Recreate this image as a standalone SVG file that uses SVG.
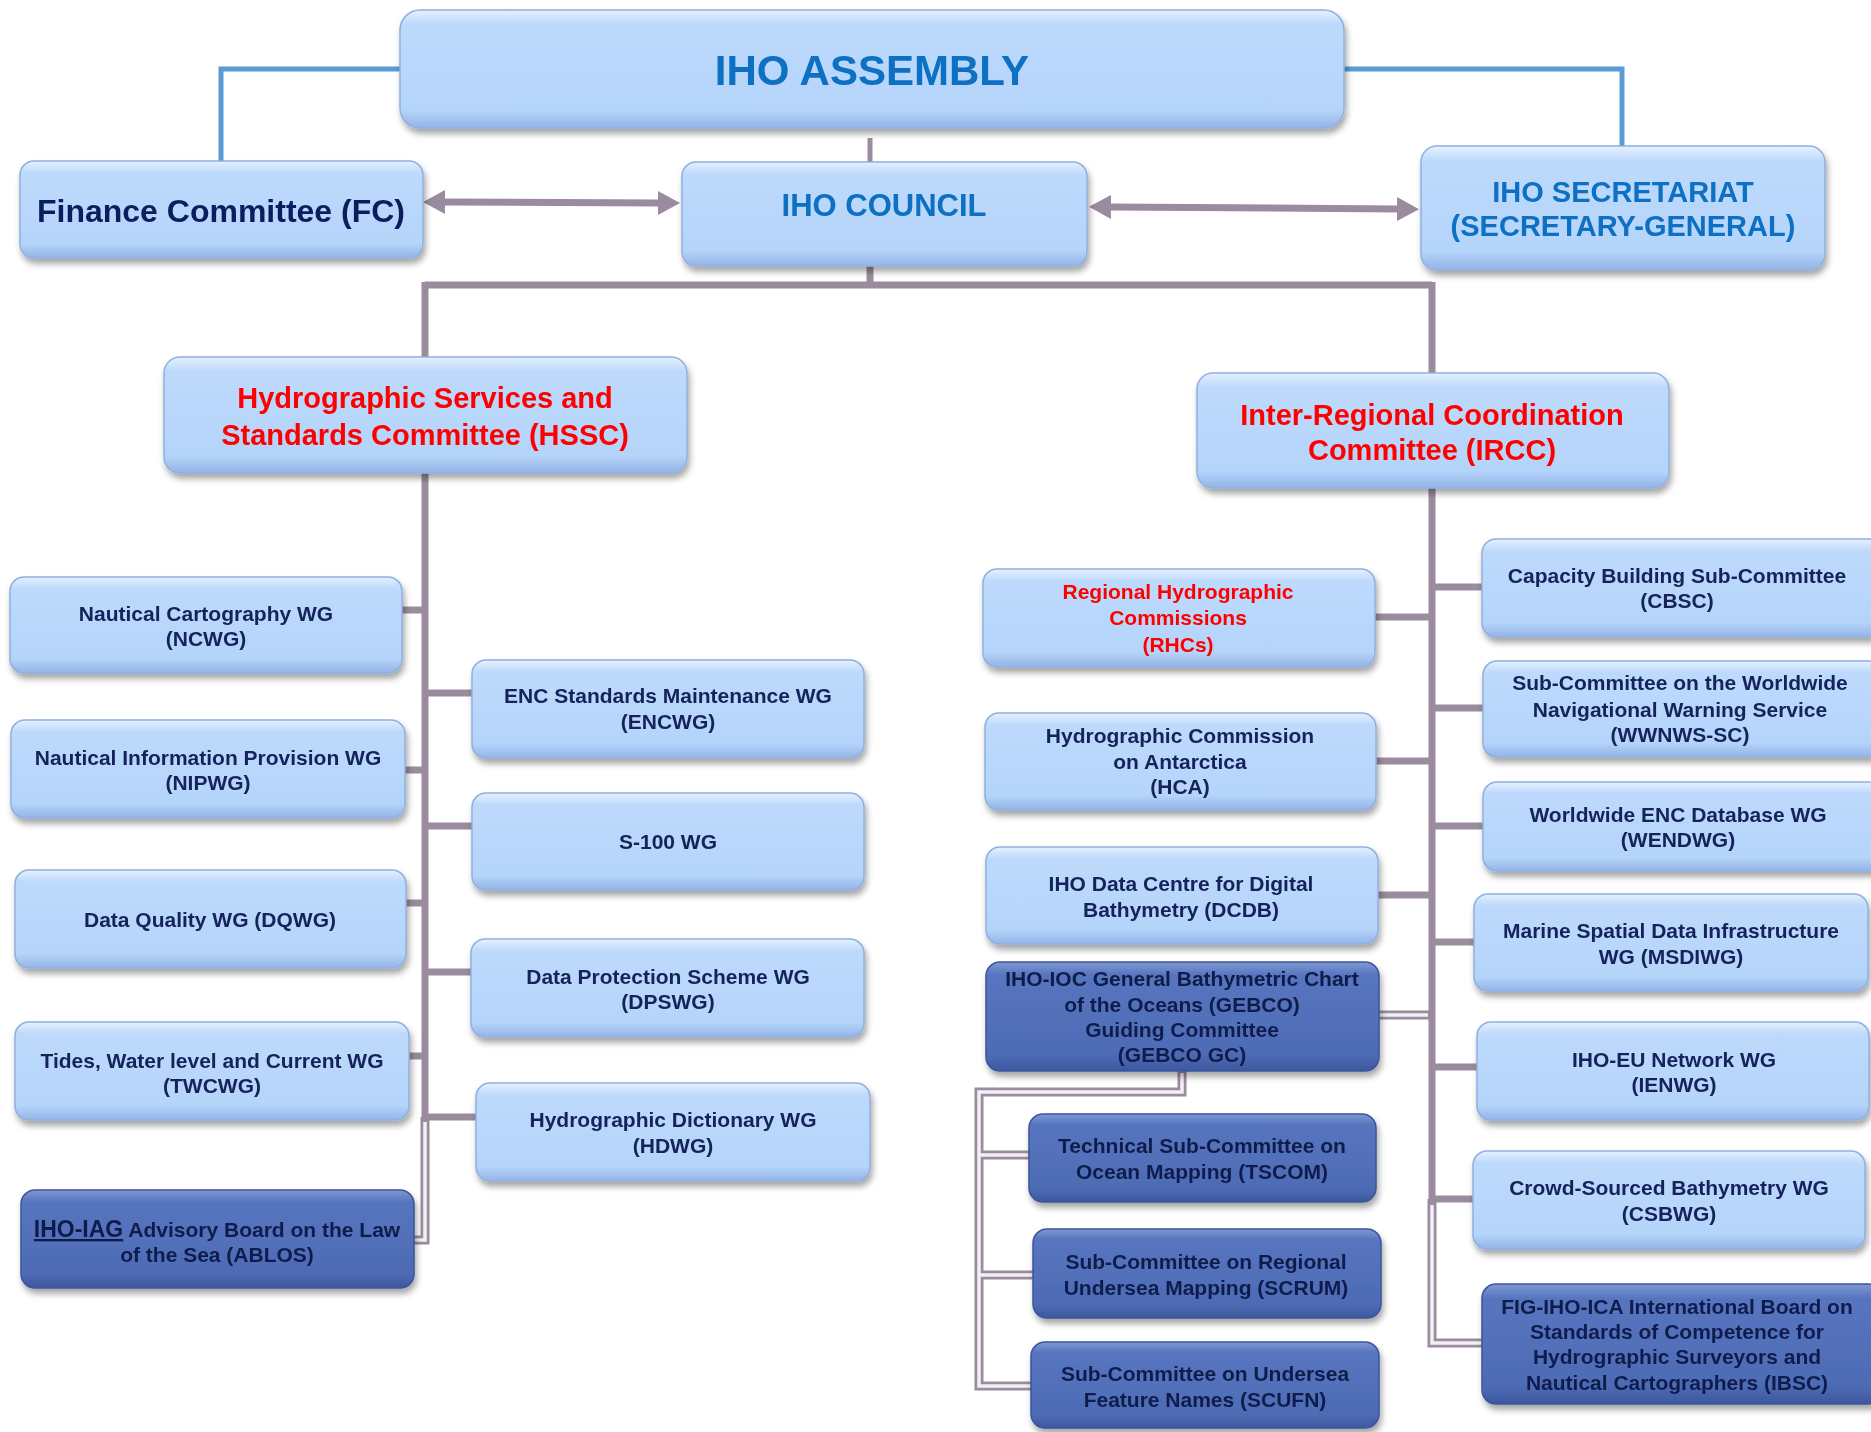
<svg xmlns="http://www.w3.org/2000/svg" width="1871" height="1432" viewBox="0 0 1871 1432">
<style>
.t{font-family:"Liberation Sans",Arial,sans-serif;font-weight:bold;font-size:21px;fill:#12225a;text-anchor:middle}
.td{font-family:"Liberation Sans",Arial,sans-serif;font-weight:bold;font-size:21px;fill:#101d4c;text-anchor:middle}
.red{fill:#ff0000}
.blue{fill:#0a6fc2}
.lb{fill:url(#gl);stroke:#8fb0df;stroke-width:1.5}
.db{fill:url(#gd);stroke:#3b5699;stroke-width:1.5}
.c{fill:none;stroke:#9a8c9e;stroke-width:7}
.ch{fill:none;stroke:#9a8c9e;stroke-width:9}
.ci{fill:none;stroke:#f3eff5;stroke-width:3.5}
.bl{fill:none;stroke:#5b9bd5;stroke-width:5}
</style>
<defs>
<linearGradient id="gl" x1="0" y1="0" x2="0" y2="1">
<stop offset="0" stop-color="#e6f1fe"/>
<stop offset="0.12" stop-color="#bddafc"/>
<stop offset="0.85" stop-color="#b5d4fa"/>
<stop offset="1" stop-color="#93b4e6"/>
</linearGradient>
<linearGradient id="gd" x1="0" y1="0" x2="0" y2="1">
<stop offset="0" stop-color="#8099d4"/>
<stop offset="0.12" stop-color="#5775bf"/>
<stop offset="0.85" stop-color="#4e6bb5"/>
<stop offset="1" stop-color="#3c589e"/>
</linearGradient>
<filter id="sh" x="-10%" y="-10%" width="120%" height="140%">
<feGaussianBlur in="SourceAlpha" stdDeviation="3"/>
<feOffset dx="2" dy="5" result="o"/>
<feFlood flood-color="#000" flood-opacity="0.35"/>
<feComposite in2="o" operator="in"/>
<feMerge><feMergeNode/><feMergeNode in="SourceGraphic"/></feMerge>
</filter>
<marker id="ah" markerUnits="userSpaceOnUse" markerWidth="24" markerHeight="26" refX="2" refY="13" orient="auto-start-reverse">
<path d="M0,1 L22,13 L0,25 z" fill="#9a8c9e"/>
</marker>
</defs>

<g id="connectors">
<path class="bl" d="M400,69 H221 V161"/>
<path class="bl" d="M1344,69 H1622 V146"/>
<path class="c" d="M870,138 V162" style="stroke-width:5"/>
<path class="c" d="M870,266 V285 M425,285 H1432 M425,282 V357 M1432,282 V373"/>
<path class="c" d="M443,202 L660,203" marker-start="url(#ah)" marker-end="url(#ah)"/>
<path class="c" d="M1109,207 L1399,209" marker-start="url(#ah)" marker-end="url(#ah)"/>
<!-- HSSC -->
<path class="c" d="M425,473 V1120"/>
<path class="c" d="M402,610 H425 M405,770 H425 M406,903 H425 M409,1056 H425 M425,693 H472 M425,826 H472 M425,972 H471 M425,1117 H476"/>
<path class="ch" d="M425,1117 V1240 H414"/>
<path class="ci" d="M425,1122 V1240 H414"/>
<!-- IRCC -->
<path class="c" d="M1432,488 V1202"/>
<path class="c" d="M1375,617 H1432 M1376,761 H1432 M1378,895 H1432 M1432,587 H1482 M1432,708 H1483 M1432,826 H1483 M1432,942 H1474 M1432,1067 H1477 M1432,1199 H1473"/>
<path class="ch" d="M1379,1015 H1432"/>
<path class="ci" d="M1379,1015 H1428"/>
<path class="ch" d="M1432,1199 V1343 H1482"/>
<path class="ci" d="M1432,1205 V1343 H1482"/>
<!-- GEBCO -->
<path class="ch" d="M1182,1071 V1092 H979 V1386 H1031 M979,1155 H1029 M979,1275 H1033"/>
<path class="ci" d="M1182,1073 V1092 H979 V1386 H1031 M979,1155 H1029 M979,1275 H1033"/>
</g>

<g id="assembly" filter="url(#sh)"><rect class="lb" x="400" y="10" width="944" height="118" rx="20"/><text class="t blue" x="872" y="85" style="font-size:42px">IHO ASSEMBLY</text></g>
<g id="finance" filter="url(#sh)"><rect class="lb" x="20" y="161" width="403" height="97" rx="14"/><text class="t" x="221" y="222" style="font-size:32px;fill:#0c1f5e">Finance Committee (FC)</text></g>
<g id="council" filter="url(#sh)"><rect class="lb" x="682" y="162" width="405" height="104" rx="14"/><text class="t blue" x="884" y="216" style="font-size:31px">IHO COUNCIL</text></g>
<g id="secretariat" filter="url(#sh)"><rect class="lb" x="1421" y="146" width="404" height="124" rx="16"/><text class="t blue" x="1623" y="202" style="font-size:29px">IHO SECRETARIAT</text><text class="t blue" x="1623" y="236" style="font-size:29px">(SECRETARY-GENERAL)</text></g>
<g id="hssc" filter="url(#sh)"><rect class="lb" x="164" y="357" width="523" height="116" rx="16"/><text class="t red" x="425" y="408" style="font-size:29px">Hydrographic Services and</text><text class="t red" x="425" y="445" style="font-size:29px">Standards Committee (HSSC)</text></g>
<g id="ircc" filter="url(#sh)"><rect class="lb" x="1197" y="373" width="472" height="115" rx="16"/><text class="t red" x="1432" y="425" style="font-size:29px">Inter-Regional Coordination</text><text class="t red" x="1432" y="460" style="font-size:29px">Committee (IRCC)</text></g>

<g id="ncwg" filter="url(#sh)"><rect class="lb" x="10" y="577" width="392" height="96" rx="14"/><text class="t" x="206" y="621">Nautical Cartography WG</text><text class="t" x="206" y="646">(NCWG)</text></g>
<g id="nipwg" filter="url(#sh)"><rect class="lb" x="11" y="720" width="394" height="98" rx="14"/><text class="t" x="208" y="765">Nautical Information Provision WG</text><text class="t" x="208" y="790">(NIPWG)</text></g>
<g id="dqwg" filter="url(#sh)"><rect class="lb" x="15" y="870" width="391" height="98" rx="14"/><text class="t" x="210" y="927">Data Quality WG (DQWG)</text></g>
<g id="twcwg" filter="url(#sh)"><rect class="lb" x="15" y="1022" width="394" height="98" rx="14"/><text class="t" x="212" y="1068">Tides, Water level and Current WG</text><text class="t" x="212" y="1093">(TWCWG)</text></g>
<g id="ablos" filter="url(#sh)"><rect class="db" x="21" y="1190" width="393" height="98" rx="14"/><text class="td" x="217" y="1237"><tspan style="font-size:23px;text-decoration:underline">IHO-IAG</tspan> Advisory Board on the Law</text><text class="td" x="217" y="1262">of the Sea (ABLOS)</text></g>

<g id="encwg" filter="url(#sh)"><rect class="lb" x="472" y="660" width="392" height="98" rx="14"/><text class="t" x="668" y="703">ENC Standards Maintenance WG</text><text class="t" x="668" y="729">(ENCWG)</text></g>
<g id="s100wg" filter="url(#sh)"><rect class="lb" x="472" y="793" width="392" height="97" rx="14"/><text class="t" x="668" y="849">S-100 WG</text></g>
<g id="dpswg" filter="url(#sh)"><rect class="lb" x="471" y="939" width="393" height="98" rx="14"/><text class="t" x="668" y="984">Data Protection Scheme WG</text><text class="t" x="668" y="1009">(DPSWG)</text></g>
<g id="hdwg" filter="url(#sh)"><rect class="lb" x="476" y="1083" width="394" height="98" rx="14"/><text class="t" x="673" y="1127">Hydrographic Dictionary WG</text><text class="t" x="673" y="1153">(HDWG)</text></g>

<g id="rhcs" filter="url(#sh)"><rect class="lb" x="983" y="569" width="392" height="98" rx="14"/><text class="t red" x="1178" y="599">Regional Hydrographic</text><text class="t red" x="1178" y="625">Commissions</text><text class="t red" x="1178" y="652">(RHCs)</text></g>
<g id="hca" filter="url(#sh)"><rect class="lb" x="985" y="713" width="391" height="97" rx="14"/><text class="t" x="1180" y="743">Hydrographic Commission</text><text class="t" x="1180" y="769">on Antarctica</text><text class="t" x="1180" y="794">(HCA)</text></g>
<g id="dcdb" filter="url(#sh)"><rect class="lb" x="986" y="847" width="392" height="97" rx="14"/><text class="t" x="1181" y="891">IHO Data Centre for Digital</text><text class="t" x="1181" y="917">Bathymetry (DCDB)</text></g>
<g id="gebco" filter="url(#sh)"><rect class="db" x="986" y="962" width="393" height="109" rx="14"/><text class="td" x="1182" y="986">IHO-IOC General Bathymetric Chart</text><text class="td" x="1182" y="1012">of the Oceans (GEBCO)</text><text class="td" x="1182" y="1037">Guiding Committee</text><text class="td" x="1182" y="1062">(GEBCO GC)</text></g>
<g id="tscom" filter="url(#sh)"><rect class="db" x="1029" y="1114" width="347" height="88" rx="14"/><text class="td" x="1202" y="1153">Technical Sub-Committee on</text><text class="td" x="1202" y="1179">Ocean Mapping (TSCOM)</text></g>
<g id="scrum" filter="url(#sh)"><rect class="db" x="1033" y="1229" width="348" height="89" rx="14"/><text class="td" x="1206" y="1269">Sub-Committee on  Regional</text><text class="td" x="1206" y="1295">Undersea Mapping (SCRUM)</text></g>
<g id="scufn" filter="url(#sh)"><rect class="db" x="1031" y="1342" width="348" height="86" rx="14"/><text class="td" x="1205" y="1381">Sub-Committee on Undersea</text><text class="td" x="1205" y="1407">Feature Names (SCUFN)</text></g>

<g id="cbsc" filter="url(#sh)"><rect class="lb" x="1482" y="539" width="400" height="98" rx="14"/><text class="t" x="1677" y="583">Capacity Building Sub-Committee</text><text class="t" x="1677" y="608">(CBSC)</text></g>
<g id="wwnws" filter="url(#sh)"><rect class="lb" x="1483" y="661" width="400" height="96" rx="14"/><text class="t" x="1680" y="690">Sub-Committee on the Worldwide</text><text class="t" x="1680" y="717">Navigational Warning Service</text><text class="t" x="1680" y="742">(WWNWS-SC)</text></g>
<g id="wendwg" filter="url(#sh)"><rect class="lb" x="1483" y="782" width="400" height="89" rx="14"/><text class="t" x="1678" y="822">Worldwide ENC Database WG</text><text class="t" x="1678" y="847">(WENDWG)</text></g>
<g id="msdiwg" filter="url(#sh)"><rect class="lb" x="1474" y="894" width="394" height="97" rx="14"/><text class="t" x="1671" y="938">Marine Spatial Data Infrastructure</text><text class="t" x="1671" y="964">WG (MSDIWG)</text></g>
<g id="ienwg" filter="url(#sh)"><rect class="lb" x="1477" y="1022" width="392" height="98" rx="14"/><text class="t" x="1674" y="1067">IHO-EU Network  WG</text><text class="t" x="1674" y="1092">(IENWG)</text></g>
<g id="csbwg" filter="url(#sh)"><rect class="lb" x="1473" y="1151" width="392" height="98" rx="14"/><text class="t" x="1669" y="1195">Crowd-Sourced Bathymetry WG</text><text class="t" x="1669" y="1221">(CSBWG)</text></g>
<g id="ibsc" filter="url(#sh)"><rect class="db" x="1482" y="1284" width="400" height="120" rx="14"/><text class="td" x="1677" y="1314">FIG-IHO-ICA International  Board on</text><text class="td" x="1677" y="1339">Standards of Competence for</text><text class="td" x="1677" y="1364">Hydrographic Surveyors and</text><text class="td" x="1677" y="1390">Nautical Cartographers (IBSC)</text></g>
</svg>
